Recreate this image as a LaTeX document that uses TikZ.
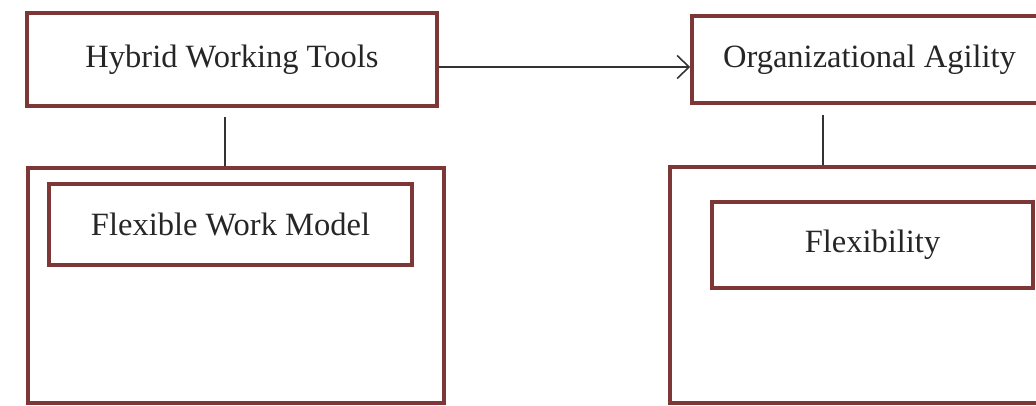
\documentclass[tikz,border=0pt]{standalone}
\usepackage{fontspec}
\setmainfont{Liberation Serif}
\usetikzlibrary{arrows.meta}
\definecolor{boxred}{RGB}{125,55,55}
\tikzset{>={Straight Barb[length=2.4mm,width=4.6mm,line width=0.9pt]},
  box/.style={draw=boxred,line width=2pt,rectangle,align=center,
    font=\fontsize{18.5}{22}\selectfont,text=black!85},
  link/.style={draw=black!80,line width=0.8pt}}

\begin{document}
\begin{tikzpicture}
    \useasboundingbox (0,0) rectangle (20.72,-8.12);
    \node[box,minimum width=8.32cm,minimum height=4.7cm]
    (outerL) at (4.72,-5.71) {};
    \node[box,minimum width=7.8cm,minimum height=4.72cm]
    (outerR) at (17.3,-5.70) {};
    \node[box,minimum width=8.2cm,minimum height=1.86cm]
    (hwt) at (4.64,-1.19) {Hybrid Working Tools};
    \node[box,minimum width=7.1cm,minimum height=1.74cm]
    (oa) at (17.39,-1.19) {Organizational Agility};
    \node[box,minimum width=7.26cm,minimum height=1.62cm]
    (fwm) at (4.61,-4.49) {Flexible Work Model};
    \node[box,minimum width=6.42cm,minimum height=1.72cm]
    (flex) at (17.45,-4.9) {Flexibility};
    \draw [link,->] ([yshift=-0.15cm]hwt.east) coordinate (a)
    -- (a -| oa.west);
    \draw [link] ([shift={(-0.14,-0.18)}]hwt.south) coordinate (b)
    -- (b |- outerL.north);
    \draw [link] ([shift={(-0.93,-0.2)}]oa.south) coordinate (c)
    -- (c |- outerR.north);
  \end{tikzpicture}
\end{document}
